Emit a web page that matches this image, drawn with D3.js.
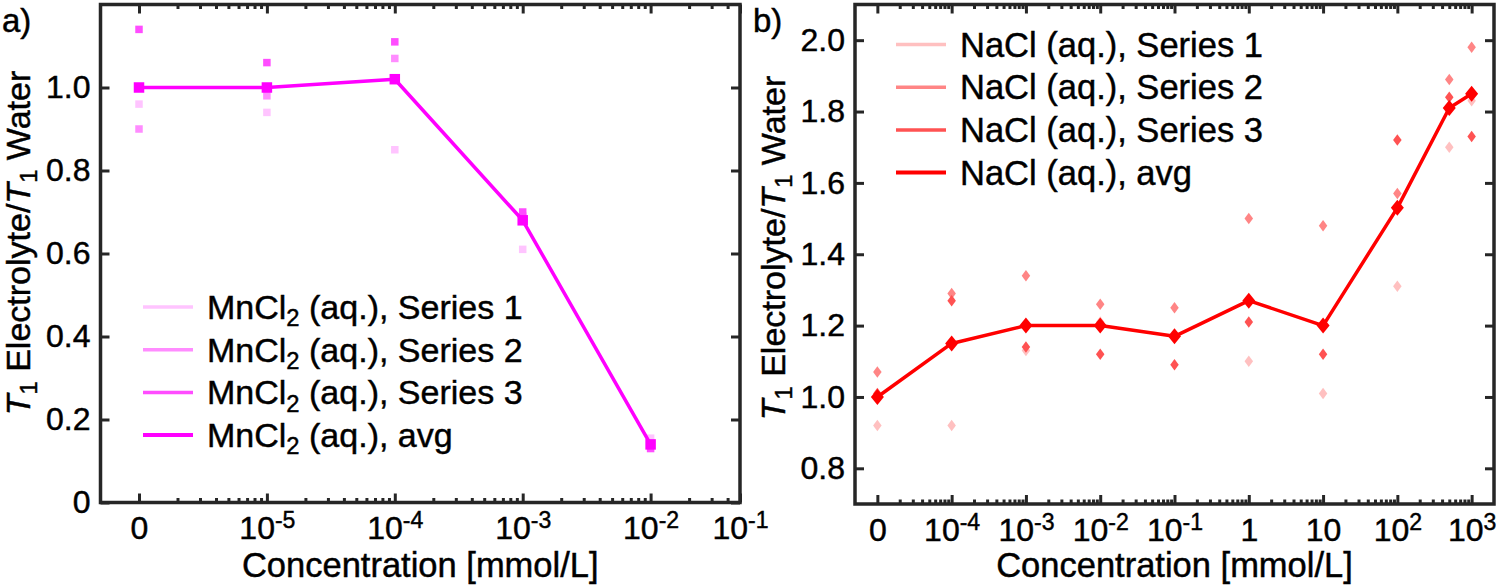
<!DOCTYPE html>
<html>
<head>
  <meta charset="utf-8">
  <script src="https://d3js.org/d3.v7.min.js"></script>
  <style>
    body { margin: 0; background: #fff; }
    text { font-family: "Liberation Sans", Arial, Helvetica, sans-serif; fill: #000; stroke: #000; stroke-width: 0.45px; }
  </style>
</head>
<body>
<script>
  // panel a) MnCl2, concentration in mmol/L (0 is drawn one decade left of the first value)
  var mnConc = [0, 1e-5, 1e-4, 1e-3, 1e-2];
  var mnS1 = [0.96, 0.94, 0.85, 0.61, 0.155];
  var mnS2 = [0.90, 0.98, 1.07, 0.69, 0.14];
  var mnS3 = [1.14, 1.06, 1.11, 0.70, 0.13];
  var mnAvg = [1.00, 1.00, 1.02, 0.68, 0.14];
  var mnTicks = [0, 1e-5, 1e-4, 1e-3, 1e-2, 5e-2];
  var mnTickLabels = ["0", "10|-5", "10|-4", "10|-3", "10|-2", "10|-1"];
  var mnYTicks = [0, 0.2, 0.4, 0.6, 0.8, 1.0];
  var mnNames = ["MnCl|2| (aq.), Series 1", "MnCl|2| (aq.), Series 2", "MnCl|2| (aq.), Series 3", "MnCl|2| (aq.), avg"];

  // panel b) NaCl
  var naConc = [0, 1e-4, 1e-3, 1e-2, 1e-1, 1, 10, 100, 500, 1000];
  var naS1 = [0.92, 0.92, 1.13, 1.21, 1.17, 1.10, 1.01, 1.31, 1.70, 1.83];
  var naS2 = [1.07, 1.29, 1.34, 1.26, 1.25, 1.50, 1.48, 1.57, 1.89, 1.98];
  var naS3 = [1.01, 1.27, 1.14, 1.12, 1.09, 1.21, 1.12, 1.72, 1.84, 1.73];
  var naAvg = [1.00, 1.15, 1.20, 1.20, 1.17, 1.27, 1.20, 1.53, 1.81, 1.85];
  var naTicks = [0, 1e-4, 1e-3, 1e-2, 1e-1, 1, 10, 100, 1000];
  var naTickLabels = ["0", "10|-4", "10|-3", "10|-2", "10|-1", "1", "10", "10|2", "10|3"];
  var naYTicks = [0.8, 1.0, 1.2, 1.4, 1.6, 1.8, 2.0];
  var naNames = ["NaCl (aq.), Series 1", "NaCl (aq.), Series 2", "NaCl (aq.), Series 3", "NaCl (aq.), avg"];

  var svg = d3.select("body").append("svg")
      .attr("width", 1497)
      .attr("height", 588);

  var frameColor = "#262626";

  function square(cx, cy, s) {
    return "M" + (cx - s / 2) + "," + (cy - s / 2) + "h" + s + "v" + s + "h" + (-s) + "Z";
  }
  function diamond(cx, cy, w, h) {
    return "M" + cx + "," + (cy - h / 2) + "L" + (cx + w / 2) + "," + cy +
           "L" + cx + "," + (cy + h / 2) + "L" + (cx - w / 2) + "," + cy + "Z";
  }

  // put "10|-5" style labels into text with a superscript, "MnCl|2|..." with a subscript
  function richText(sel, str, mode) {
    var parts = str.split("|");
    sel.text(null);
    sel.append("tspan").text(parts[0]);
    if (parts.length > 1) {
      if (mode === "sup") {
        sel.append("tspan").attr("dy", "-0.48em").attr("font-size", "0.72em").text(parts[1]);
      } else {
        sel.append("tspan").attr("dy", "0.3em").attr("font-size", "0.7em").text(parts[1]);
        sel.append("tspan").attr("dy", "-0.21em").text(parts[2]);
      }
    }
  }

  function drawPanel(p) {
    var g = svg.append("g");
    var x = d3.scaleLog().domain(p.xDomain).range([p.left, p.right]);
    var y = d3.scaleLinear().domain(p.yDomain).range([p.bottom, p.top]);
    var xp = function (v) { return x(v === 0 ? p.zeroAt : v); };

    // minor log ticks
    var minor = [];
    for (var e = Math.log10(p.zeroAt); e < 4; e++) {
      for (var m = 2; m <= 9; m++) {
        var v = m * Math.pow(10, e);
        if (v < p.xDomain[1] * 0.999) minor.push(v);
      }
    }
    var major = p.ticks.map(function (d) { return d === 0 ? p.zeroAt : d; });

    [["b", p.bottom], ["t", p.top]].forEach(function (side) {
      var mk = side[0] === "b" ? d3.axisBottom : d3.axisTop;
      g.append("g").attr("transform", "translate(0," + side[1] + ")")
        .call(mk(x).tickValues(minor).tickSizeInner(-4.5).tickSizeOuter(0).tickFormat(""));
      var ax = g.append("g").attr("transform", "translate(0," + side[1] + ")")
        .call(mk(x).tickValues(major).tickSizeInner(-9).tickSizeOuter(0).tickPadding(14)
          .tickFormat(function (d, i) { return side[0] === "b" ? p.tickLabels[i] : ""; }));
      ax.selectAll("text").attr("font-size", 32).attr("font-family", null)
        .each(function () { richText(d3.select(this), d3.select(this).text(), "sup"); });
    });

    var yl = g.append("g").attr("transform", "translate(" + p.left + ",0)")
      .call(d3.axisLeft(y).tickValues(p.yTicks).tickSizeInner(-9).tickSizeOuter(0).tickPadding(10)
        .tickFormat(function (d) { return d === 0 ? "0" : d3.format(".1f")(d); }));
    yl.selectAll("text").attr("font-size", 32).attr("font-family", null);
    g.append("g").attr("transform", "translate(" + p.right + ",0)")
      .call(d3.axisRight(y).tickValues(p.yTicks).tickSizeInner(-9).tickSizeOuter(0).tickFormat(""));

    g.selectAll(".domain").remove();
    g.selectAll(".tick line").attr("stroke", frameColor).attr("stroke-width", 3);
    g.selectAll(".tick text").attr("fill", "#000");

    g.append("rect")
      .attr("x", p.left).attr("y", p.top)
      .attr("width", p.right - p.left).attr("height", p.bottom - p.top)
      .attr("fill", "none").attr("stroke", frameColor).attr("stroke-width", 3.5);

    // single series markers
    p.series.forEach(function (s, k) {
      g.selectAll(null).data(s).enter().append("path")
        .attr("d", function (d, i) {
          return p.shape === "square" ? square(xp(p.conc[i]), y(d), 7.5)
                                      : diamond(xp(p.conc[i]), y(d), 8.5, 11.5);
        })
        .attr("fill", p.colors[k]);
    });

    // average line and markers
    var line = d3.line()
      .x(function (d, i) { return xp(p.conc[i]); })
      .y(function (d) { return y(d); });
    g.append("path").datum(p.avg).attr("d", line)
      .attr("fill", "none").attr("stroke", p.colors[3]).attr("stroke-width", 3.5)
      .attr("stroke-linejoin", "round");
    g.selectAll(null).data(p.avg).enter().append("path")
      .attr("d", function (d, i) {
        return p.shape === "square" ? square(xp(p.conc[i]), y(d), 10.5)
                                    : diamond(xp(p.conc[i]), y(d), 13, 16);
      })
      .attr("fill", p.colors[3]);

    // legend
    p.names.forEach(function (name, k) {
      var ly = p.legY + k * p.legStep;
      g.append("line")
        .attr("x1", p.legX).attr("x2", p.legX + 50)
        .attr("y1", ly).attr("y2", ly)
        .attr("stroke", p.colors[k]).attr("stroke-width", k === 3 ? 4 : 3.5);
      var t = g.append("text").attr("x", p.legX + 64).attr("y", ly + 12)
        .attr("font-size", p.legFont);
      richText(t, name, "sub");
    });

    g.append("text")
      .attr("x", (p.left + p.right) / 2).attr("y", 577)
      .attr("text-anchor", "middle").attr("font-size", 34.5)
      .text("Concentration [mmol/L]");

    var yt = g.append("text")
      .attr("transform", "translate(" + p.yTitleX + "," + p.yTitleY + ") rotate(-90)")
      .attr("text-anchor", "middle").attr("font-size", 34);
    yt.append("tspan").attr("font-style", "italic").text("T");
    yt.append("tspan").attr("dy", "0.3em").attr("font-size", "0.7em").text("1");
    yt.append("tspan").attr("dy", "-0.21em").text(" Electrolyte/");
    yt.append("tspan").attr("font-style", "italic").text("T");
    yt.append("tspan").attr("dy", "0.3em").attr("font-size", "0.7em").text("1");
    yt.append("tspan").attr("dy", "-0.21em").text(" Water");

    g.append("text").attr("x", p.tagX).attr("y", 32).attr("font-size", 33).text(p.tag);
  }

  drawPanel({
    left: 100.5, right: 740, top: 4.5, bottom: 502.5,
    xDomain: [5e-7, 5e-2], zeroAt: 1e-6, yDomain: [0, 1.2],
    ticks: mnTicks, tickLabels: mnTickLabels, yTicks: mnYTicks,
    conc: mnConc, series: [mnS1, mnS2, mnS3], avg: mnAvg, shape: "square",
    colors: ["#ffc4ff", "#ff8cff", "#ff4dff", "#ff00ff"],
    names: mnNames, legX: 143, legY: 307, legStep: 42.7, legFont: 34,
    yTitleX: 30, yTitleY: 243, tag: "a)", tagX: 2
  });

  drawPanel({
    left: 855, right: 1494, top: 4.5, bottom: 504,
    xDomain: [5e-6, 2e3], zeroAt: 1e-5, yDomain: [0.7, 2.1],
    ticks: naTicks, tickLabels: naTickLabels, yTicks: naYTicks,
    conc: naConc, series: [naS1, naS2, naS3], avg: naAvg, shape: "diamond",
    colors: ["#ffc0c0", "#ff8585", "#ff5252", "#ff0000"],
    names: naNames, legX: 896, legY: 44.5, legStep: 42.7, legFont: 34.5,
    yTitleX: 785, yTitleY: 248, tag: "b)", tagX: 753
  });
</script>
</body>
</html>
